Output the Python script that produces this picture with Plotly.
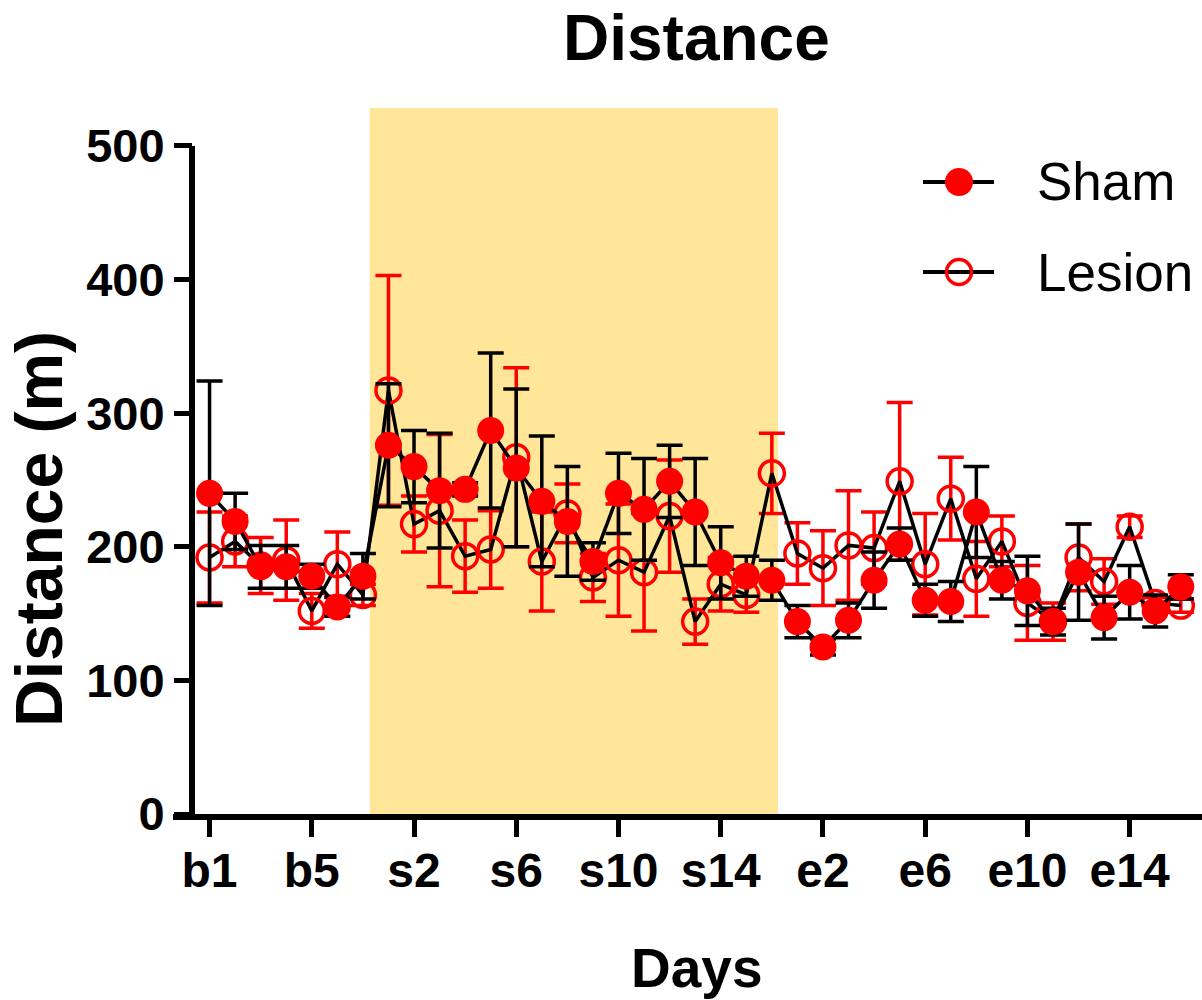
import plotly.graph_objects as go

# ---------------- data ----------------
days = (["b%d" % i for i in range(1, 8)] +
        ["s%d" % i for i in range(1, 17)] +
        ["e%d" % i for i in range(1, 17)])
tick_labels = ["b1", "b5", "s2", "s6", "s10", "s14", "e2", "e6", "e10", "e14"]
y_ticks = [0, 100, 200, 300, 400, 500]

sham_mean = [240, 219, 185, 185, 178, 155, 178,
             276, 260, 242, 243, 287, 259, 234, 219, 189, 240, 228, 249, 226, 188, 178, 175,
             144, 125, 145, 175, 202, 160, 159, 226, 175, 167, 144, 181, 147, 166, 152, 170]
sham_sem = [84, 21, 16, 16, 9, 7, 17,
            46, 27, 43, 5, 58, 59, 49, 41, 14, 30, 38, 27, 40, 27, 15, 15,
            12, 6, 13, 21, 12, 12, 15, 34, 14, 26, 10, 36, 16, 20, 12, 9]
lesion_mean = [192, 204, 186, 190, 152, 187, 164,
               317, 217, 227, 193, 198, 267, 189, 225, 177, 190, 181, 223, 144, 172, 164, 255,
               195, 184, 201, 199, 249, 187, 236, 176, 204, 158, 144, 192, 174, 215, 158, 156]
lesion_sem = [34, 19, 21, 30, 13, 24, 8,
              86, 21, 57, 27, 29, 67, 37, 22, 18, 42, 44, 42, 17, 20, 13, 30,
              23, 28, 41, 27, 59, 38, 31, 28, 19, 28, 14, 25, 17, 8, 4, 5]

# ---------------- layout geometry ----------------
W, H = 1202, 1000
ML, MR, MT, MB = 173, 0, 108, 186
PW, PH = W - ML - MR, H - MT - MB


def px(x):
    return (x - ML) / PW


def py(y):
    return (H - MB - y) / PH


FONT = "Liberation Sans, Arial, Helvetica, sans-serif"
RED = "#FF0000"
SHADE = "#FFE699"
Y_MAX = 528.4
X_RANGE = [-1.43, 38.83]
SHADE_X = [6.27, 22.24]

fig = go.Figure()

fig.add_trace(go.Scatter(
    x=days, y=lesion_mean, name="Lesion", mode="lines+markers",
    line=dict(color="black", width=3.5),
    marker=dict(symbol="circle-open", size=25, color=RED, line=dict(width=3.5, color=RED)),
    error_y=dict(type="data", array=lesion_sem, visible=True, color=RED, thickness=3.5, width=13),
    showlegend=False, cliponaxis=False,
))
fig.add_trace(go.Scatter(
    x=days, y=sham_mean, name="Sham", mode="lines+markers",
    line=dict(color="black", width=3.5),
    marker=dict(symbol="circle", size=27, color=RED, line=dict(width=0)),
    error_y=dict(type="data", array=sham_sem, visible=True, color="black", thickness=3.5, width=13),
    showlegend=False, cliponaxis=False,
))

shapes = [
    # shaded surgery period
    dict(type="rect", xref="x", yref="y", x0=SHADE_X[0], x1=SHADE_X[1], y0=0, y1=Y_MAX,
         fillcolor=SHADE, line=dict(width=0), layer="below"),
    # y axis line (0..500)
    dict(type="line", xref="paper", yref="y", x0=px(192), x1=px(192), y0=0, y1=500,
         line=dict(color="black", width=6)),
]

# custom legend
legend_rows = [("Sham", 182, "filled"), ("Lesion", 272, "open")]
annotations = []
for name, yc, kind in legend_rows:
    shapes.append(dict(type="line", xref="paper", yref="paper",
                       x0=px(923), x1=px(994), y0=py(yc), y1=py(yc),
                       line=dict(color="black", width=4)))
    if kind == "filled":
        shapes.append(dict(type="circle", xref="paper", yref="paper",
                           xsizemode="pixel", ysizemode="pixel",
                           xanchor=px(959), yanchor=py(yc),
                           x0=-14, x1=14, y0=-14, y1=14,
                           fillcolor=RED, line=dict(width=0)))
    else:
        shapes.append(dict(type="circle", xref="paper", yref="paper",
                           xsizemode="pixel", ysizemode="pixel",
                           xanchor=px(959), yanchor=py(yc),
                           x0=-12.5, x1=12.5, y0=-12.5, y1=12.5,
                           fillcolor="rgba(0,0,0,0)", line=dict(width=3.5, color=RED)))
    annotations.append(dict(text=name, xref="paper", yref="paper", x=px(1035), y=py(yc),
                            xanchor="left", yanchor="middle", showarrow=False,
                            font=dict(family=FONT, size=53, color="black")))

# title and axis titles
annotations.append(dict(text="Distance", xref="paper", yref="paper", x=px(696), y=py(38),
                        xanchor="center", yanchor="middle", showarrow=False,
                        font=dict(family=FONT, size=64, color="black", weight="bold")))
annotations.append(dict(text="Days", xref="paper", yref="paper", x=px(696), y=py(968),
                        xanchor="center", yanchor="middle", showarrow=False,
                        font=dict(family=FONT, size=55, color="black", weight="bold")))
annotations.append(dict(text="Distance (m)", xref="paper", yref="paper", x=px(39), y=py(529),
                        xanchor="center", yanchor="middle", showarrow=False, textangle=-90,
                        font=dict(family=FONT, size=66, color="black", weight="bold")))

fig.update_layout(
    width=W, height=H,
    margin=dict(l=ML, r=MR, t=MT, b=MB, pad=0),
    paper_bgcolor="white", plot_bgcolor="white",
    shapes=shapes, annotations=annotations,
    showlegend=False,
    xaxis=dict(type="category", categoryorder="array", categoryarray=days,
               range=X_RANGE, tickmode="array", tickvals=tick_labels, ticktext=tick_labels,
               ticks="outside", ticklen=17, tickwidth=5, tickcolor="black",
               ticklabelstandoff=-8,
               showline=True, linewidth=6, linecolor="black",
               showgrid=False, zeroline=False,
               tickfont=dict(family=FONT, size=48, color="black", weight="bold")),
    yaxis=dict(range=[0, Y_MAX], tickmode="array", tickvals=y_ticks,
               anchor="free", position=px(192),
               ticks="outside", ticklen=18, tickwidth=5, tickcolor="black",
               showline=False, showgrid=False, zeroline=False,
               tickfont=dict(family=FONT, size=47, color="black", weight="bold")),
)

fig.write_html("out.html",
               config={"displayModeBar": False},
               post_script="document.body.style.margin='0px';document.body.style.overflow='hidden';")
